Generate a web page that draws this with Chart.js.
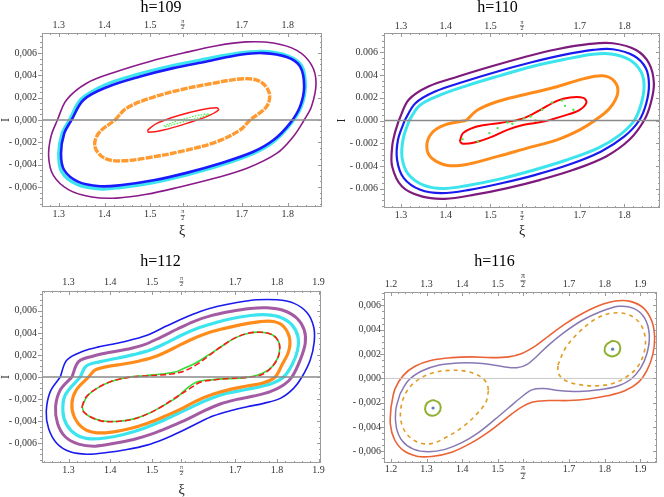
<!DOCTYPE html>
<html><head><meta charset="utf-8">
<script src="https://cdn.jsdelivr.net/npm/chart.js@4"></script>
<style>
html,body{margin:0;padding:0;background:#fff;}
#wrap{position:relative;width:664px;height:497px;overflow:hidden;}
canvas{position:absolute;}
</style></head><body>
<div id="wrap">
<canvas id="c109" width="332" height="248" style="left:0;top:0"></canvas>
<canvas id="c110" width="332" height="248" style="left:332px;top:0"></canvas>
<canvas id="c112" width="332" height="249" style="left:0;top:248px"></canvas>
<canvas id="c116" width="332" height="249" style="left:332px;top:248px"></canvas>
</div>
<script>
const FONT = "'Liberation Serif', 'Times New Roman', serif";
const PI2 = Math.PI / 2;

// ---- tick values / labels ----
const xTicksA = [1.3, 1.4, 1.5, PI2, 1.7, 1.8];
const xLabelsA = ['1.3', '1.4', '1.5', ['π', '2'], '1.7', '1.8'];
const xTicksB = [1.3, 1.4, 1.5, PI2, 1.7, 1.8, 1.9];
const xLabelsB = ['1.3', '1.4', '1.5', ['π', '2'], '1.7', '1.8', '1.9'];
const xTicksC = [1.2, 1.3, 1.4, 1.5, PI2, 1.7, 1.8, 1.9];
const xLabelsC = ['1.2', '1.3', '1.4', '1.5', ['π', '2'], '1.7', '1.8', '1.9'];
const yTicks = [-0.006, -0.004, -0.002, 0, 0.002, 0.004, 0.006];
const yLabelsComma = ['- 0,006', '- 0,004', '- 0,002', '0,000', '0,002', '0,004', '0,006'];
const yLabelsDot = ['- 0.006', '- 0.004', '- 0.002', '0.000', '0.002', '0.004', '0.006'];

// ---- h=109 ----
const purple109 = [[1.297,0],[1.317,0.0018],[1.361,0.0033],[1.427,0.00435],[1.499,0.00525],[1.572,0.006],[1.645,0.00666],[1.710,0.0070],[1.769,0.0069],[1.820,0.00624],[1.852,0.00495],[1.862,0.0033],[1.852,0.0012],[1.836,0],[1.812,-0.0015],[1.776,-0.003],[1.710,-0.00435],[1.638,-0.00525],[1.565,-0.006],[1.492,-0.00666],[1.427,-0.0070],[1.372,-0.0069],[1.321,-0.00624],[1.288,-0.00495],[1.278,-0.0033],[1.283,-0.0015]];
const cyan109 = [[1.3233,0],[1.3488,0.00186],[1.4012,0.00315],[1.4739,0.00411],[1.5467,0.00486],[1.6195,0.00546],[1.6923,0.006],[1.7469,0.00615],[1.7993,0.00576],[1.8306,0.00486],[1.8386,0.003],[1.8292,0.00114],[1.8066,-0.00036],[1.7702,-0.00192],[1.725,-0.003],[1.6523,-0.00408],[1.5795,-0.00492],[1.5067,-0.00561],[1.4339,-0.00606],[1.3888,-0.00618],[1.3393,-0.00576],[1.3066,-0.00465],[1.30,-0.003],[1.3073,-0.0012]];
const blue109 = [[1.328,0],[1.354,0.0018],[1.405,0.00294],[1.478,0.0039],[1.550,0.00465],[1.623,0.00525],[1.696,0.00585],[1.747,0.006],[1.798,0.00564],[1.827,0.0048],[1.836,0.003],[1.827,0.0012],[1.805,-0.0003],[1.769,-0.0018],[1.725,-0.00285],[1.652,-0.0039],[1.579,-0.00474],[1.507,-0.0054],[1.434,-0.00585],[1.390,-0.00594],[1.343,-0.00555],[1.312,-0.0045],[1.305,-0.003],[1.312,-0.0012]];
const orange109 = [[1.423,0],[1.448,0.00105],[1.499,0.00195],[1.565,0.0027],[1.638,0.0033],[1.703,0.0037],[1.740,0.00345],[1.760,0.0024],[1.754,0.0012],[1.718,0],[1.696,-0.0009],[1.645,-0.00195],[1.580,-0.0027],[1.507,-0.0033],[1.441,-0.00366],[1.401,-0.00345],[1.379,-0.0024],[1.387,-0.0012]];
const red109 = [[1.494,-0.0009],[1.514,-0.0003],[1.558,0.00036],[1.609,0.0009],[1.645,0.0011],[1.649,0.0009],[1.623,0.0003],[1.580,-0.0003],[1.529,-0.0009],[1.496,-0.0011]];
const green109 = [[1.529,-0.00054],[1.565,0],[1.609,0.00045],[1.630,0.00054],[1.609,0.00024],[1.565,-0.00024],[1.532,-0.0006]];

// ---- h=110 ----
const purple110 = [[1.2948,0],[1.317,0.00182],[1.361,0.00299],[1.4276,0.00387],[1.501,0.00475],[1.575,0.00557],[1.649,0.00627],[1.7226,0.00674],[1.774,0.0068],[1.826,0.00621],[1.855,0.00504],[1.866,0.00328],[1.859,0.00152],[1.844,0],[1.811,-0.0017],[1.759,-0.00316],[1.686,-0.00434],[1.612,-0.00522],[1.538,-0.00595],[1.4645,-0.00653],[1.398,-0.00689],[1.346,-0.00668],[1.302,-0.0058],[1.280,-0.00404],[1.280,-0.00229],[1.286,-0.00111]];
const blue110 = [[1.308,0],[1.332,0.00152],[1.376,0.00255],[1.442,0.00343],[1.516,0.00431],[1.590,0.0051],[1.6636,0.00577],[1.730,0.00621],[1.774,0.00627],[1.822,0.00568],[1.848,0.0046],[1.855,0.00314],[1.849,0.00152],[1.833,0],[1.800,-0.0014],[1.748,-0.00272],[1.675,-0.0039],[1.601,-0.00478],[1.527,-0.0055],[1.453,-0.0061],[1.391,-0.00639],[1.343,-0.0061],[1.306,-0.00507],[1.291,-0.00346],[1.293,-0.0017]];
const cyan110 = [[1.318,0],[1.3406,0.00129],[1.383,0.00217],[1.446,0.00305],[1.520,0.00393],[1.5935,0.00475],[1.667,0.00539],[1.730,0.00583],[1.7705,0.00586],[1.8125,0.00533],[1.837,0.0043],[1.844,0.00305],[1.838,0.00152],[1.822,0],[1.790,-0.00126],[1.741,-0.00243],[1.667,-0.00352],[1.5935,-0.0044],[1.520,-0.00516],[1.446,-0.00574],[1.394,-0.00598],[1.350,-0.00568],[1.3155,-0.00469],[1.302,-0.00322],[1.305,-0.00155]];
const orange110 = [[1.446,0],[1.472,0.00094],[1.516,0.00167],[1.575,0.00226],[1.6415,0.0029],[1.708,0.00366],[1.752,0.00393],[1.778,0.00343],[1.785,0.0024],[1.767,0.00108],[1.7336,0],[1.700,-0.00082],[1.649,-0.0017],[1.582,-0.00243],[1.516,-0.00316],[1.450,-0.00384],[1.405,-0.00396],[1.3686,-0.00331],[1.3575,-0.00229],[1.3686,-0.00111],[1.398,-0.00038]];
const red110 = [[1.4313,-0.00185],[1.4386,-0.00111],[1.4645,-0.00059],[1.5013,-0.00032],[1.538,-0.00012],[1.575,0.00021],[1.612,0.00094],[1.649,0.00173],[1.678,0.00202],[1.708,0.00199],[1.715,0.00158],[1.700,0.00094],[1.6636,0.00041],[1.619,-0.00009],[1.575,-0.00038],[1.538,-0.00082],[1.5013,-0.00146],[1.4645,-0.00193],[1.4386,-0.00205]];
const green110 = [[1.4372,-0.00164],[1.4718,-0.00185],[1.4976,-0.00111],[1.516,-0.00067],[1.538,-0.00018],[1.549,-0.00029],[1.5566,0],[1.575,0.00018],[1.590,0.00035],[1.601,0],[1.6156,0.00094],[1.638,0.00158],[1.660,0.00176],[1.667,0.00129],[1.6857,0.00094]];

// ---- h=112 ----
const blue112 = [[1.280,0],[1.296,0.00155],[1.336,0.00236],[1.376,0.00276],[1.416,0.00306],[1.456,0.00342],[1.496,0.00391],[1.536,0.00464],[1.576,0.00533],[1.616,0.00594],[1.656,0.00639],[1.704,0.00676],[1.752,0.007],[1.800,0.007],[1.840,0.0067],[1.872,0.00585],[1.888,0.00458],[1.8896,0.00321],[1.880,0.00155],[1.860,0],[1.840,-0.00103],[1.808,-0.00194],[1.768,-0.00239],[1.728,-0.0027],[1.688,-0.00306],[1.648,-0.00352],[1.608,-0.00421],[1.568,-0.00497],[1.528,-0.00564],[1.488,-0.00618],[1.440,-0.00658],[1.392,-0.00685],[1.344,-0.007],[1.304,-0.00679],[1.272,-0.00603],[1.252,-0.00467],[1.2464,-0.00315],[1.256,-0.00133]];
const purple112 = [[1.308,0],[1.324,0.00139],[1.360,0.00191],[1.400,0.00224],[1.440,0.00251],[1.480,0.00291],[1.520,0.00358],[1.560,0.00433],[1.600,0.00503],[1.640,0.00554],[1.688,0.00594],[1.736,0.00621],[1.776,0.00627],[1.816,0.00603],[1.848,0.00533],[1.8656,0.00427],[1.868,0.00306],[1.856,0.00155],[1.836,0],[1.816,-0.00073],[1.784,-0.00133],[1.744,-0.00173],[1.704,-0.00203],[1.664,-0.00245],[1.624,-0.00309],[1.584,-0.00385],[1.544,-0.00451],[1.504,-0.00512],[1.456,-0.00567],[1.408,-0.00603],[1.364,-0.00627],[1.324,-0.00609],[1.292,-0.00542],[1.2736,-0.00421],[1.2688,-0.0027],[1.280,-0.00118]];
const cyan112 = [[1.328,0],[1.3424,0.001],[1.376,0.00139],[1.416,0.0017],[1.456,0.00203],[1.496,0.00245],[1.536,0.00312],[1.576,0.00388],[1.616,0.00451],[1.656,0.00497],[1.696,0.00533],[1.736,0.00558],[1.776,0.00564],[1.808,0.00542],[1.836,0.00473],[1.8504,0.00367],[1.8496,0.00245],[1.836,0.00109],[1.816,0],[1.792,-0.00052],[1.760,-0.00088],[1.720,-0.00118],[1.680,-0.00148],[1.640,-0.00197],[1.600,-0.00264],[1.560,-0.00336],[1.520,-0.00406],[1.480,-0.00467],[1.432,-0.00521],[1.392,-0.00551],[1.352,-0.00561],[1.320,-0.00527],[1.296,-0.00436],[1.2864,-0.00315],[1.292,-0.00164]];
const orange112 = [[1.348,0],[1.364,0.00064],[1.392,0.00094],[1.432,0.00118],[1.472,0.00148],[1.512,0.00191],[1.552,0.00261],[1.592,0.00336],[1.632,0.00397],[1.672,0.00439],[1.712,0.00473],[1.760,0.00503],[1.792,0.00503],[1.816,0.00458],[1.8304,0.00351],[1.828,0.0023],[1.812,0.00109],[1.796,0],[1.768,-0.00052],[1.728,-0.00082],[1.688,-0.00112],[1.648,-0.00155],[1.608,-0.00215],[1.568,-0.00294],[1.528,-0.00361],[1.488,-0.00421],[1.448,-0.00467],[1.408,-0.00497],[1.368,-0.00506],[1.336,-0.00467],[1.3136,-0.00361],[1.308,-0.00239],[1.3184,-0.00118]];
const red112 = [[1.332,-0.0027],[1.3424,-0.00179],[1.368,-0.00103],[1.400,-0.00042],[1.440,-0.00006],[1.480,0.00009],[1.520,0.00018],[1.552,0.0003],[1.580,0.00058],[1.608,0.00115],[1.636,0.00191],[1.664,0.0027],[1.696,0.00348],[1.728,0.00394],[1.760,0.00406],[1.788,0.00385],[1.804,0.00321],[1.8064,0.0023],[1.7984,0.00145],[1.7824,0.0007],[1.760,0.00015],[1.728,-0.00003],[1.688,-0.00012],[1.648,-0.00027],[1.616,-0.00048],[1.588,-0.00112],[1.560,-0.00179],[1.528,-0.00258],[1.496,-0.00324],[1.456,-0.00382],[1.416,-0.00403],[1.380,-0.004],[1.352,-0.0036],[1.336,-0.00315]];
const green112 = [[1.3328,-0.00264],[1.3456,-0.0017],[1.372,-0.00094],[1.404,-0.00039],[1.444,-0.00003],[1.484,0.00012],[1.524,0.00027],[1.556,0.00045],[1.572,0.0007],[1.604,0.00124],[1.636,0.002],[1.668,0.00279],[1.700,0.00355],[1.732,0.00397],[1.764,0.00406],[1.7904,0.00379],[1.8048,0.00312],[1.8056,0.00221],[1.7968,0.00136],[1.780,0.00064],[1.756,0.00021],[1.724,-0.00006],[1.684,-0.00015],[1.648,-0.00024],[1.608,-0.00045],[1.584,-0.00103],[1.560,-0.00185],[1.5264,-0.00261],[1.4944,-0.00327],[1.4544,-0.00382],[1.4144,-0.00403],[1.3784,-0.00397],[1.3504,-0.00358],[1.336,-0.00312]];

// ---- h=116 ----
const red116 = [[1.200,-0.00238],[1.2112,-0.00086],[1.2347,0.00025],[1.2675,0.001],[1.3143,0.00149],[1.3706,0.00171],[1.4268,0.00177],[1.4830,0.00171],[1.530,0.00177],[1.5674,0.00205],[1.6049,0.00265],[1.6424,0.00348],[1.6892,0.00448],[1.7361,0.00531],[1.7829,0.00597],[1.8298,0.00636],[1.8720,0.00633],[1.9095,0.00578],[1.9329,0.00467],[1.9404,0.00329],[1.9348,0.00191],[1.9188,0.00066],[1.8954,-0.0003],[1.8579,-0.001],[1.8111,-0.00141],[1.7548,-0.00169],[1.6986,-0.00182],[1.6424,-0.00182],[1.5955,-0.00196],[1.558,-0.00252],[1.5205,-0.00335],[1.4783,-0.00431],[1.4268,-0.00528],[1.3706,-0.00606],[1.3143,-0.00641],[1.2722,-0.00639],[1.2347,-0.00592],[1.2094,-0.005],[1.1981,-0.00376]];
const purple116 = [[1.2253,-0.00127],[1.2487,-0.00017],[1.2862,0.00061],[1.3331,0.00108],[1.3893,0.00127],[1.4362,0.00127],[1.4830,0.00113],[1.5205,0.00094],[1.5533,0.00088],[1.5814,0.00113],[1.6096,0.00182],[1.6424,0.00274],[1.6892,0.00384],[1.7361,0.00476],[1.7829,0.00542],[1.8392,0.00592],[1.8814,0.00575],[1.9123,0.00495],[1.9254,0.00357],[1.9188,0.00205],[1.9001,0.0008],[1.8720,-0.00011],[1.8345,-0.00064],[1.7829,-0.00094],[1.7267,-0.00108],[1.6705,-0.001],[1.6284,-0.00083],[1.5955,-0.00094],[1.5655,-0.00155],[1.5299,-0.00243],[1.4924,-0.00335],[1.4455,-0.00445],[1.3987,-0.00528],[1.3518,-0.00583],[1.3050,-0.00603],[1.2628,-0.00581],[1.2319,-0.00514],[1.2150,-0.00404],[1.2131,-0.00265]];
const orangeR116 = [[1.6686,0.00108],[1.6892,0.00246],[1.7267,0.00376],[1.7736,0.00487],[1.8204,0.00536],[1.8673,0.00523],[1.9001,0.00448],[1.9142,0.00329],[1.9095,0.00199],[1.8907,0.00088],[1.8579,0.00006],[1.8204,-0.00044],[1.7736,-0.00061],[1.7267,-0.0005],[1.6892,-0.00017],[1.6705,0.00039]];
const orangeL116 = [[1.4737,-0.001],[1.4662,-0.00196],[1.4362,-0.00307],[1.3987,-0.00404],[1.3565,-0.00481],[1.3125,-0.00536],[1.2722,-0.0052],[1.2412,-0.00445],[1.2272,-0.00335],[1.2300,-0.0021],[1.2469,-0.00094],[1.2787,-0.00006],[1.3190,0.00047],[1.3659,0.00066],[1.4127,0.00058],[1.4502,0.00017],[1.4690,-0.00039]];
const greenR116 = [[1.8223,0.0031],[1.8373,0.00296],[1.8439,0.00254],[1.8392,0.00205],[1.8251,0.00182],[1.8092,0.00191],[1.7998,0.00227],[1.8054,0.00279]];
const greenL116 = [[1.3171,-0.00177],[1.3331,-0.00196],[1.3396,-0.00238],[1.3331,-0.00285],[1.3171,-0.00307],[1.3021,-0.00293],[1.2956,-0.00252],[1.3012,-0.00202]];
const centers116 = [[1.8223,0.0024],[1.3181,-0.00243]];

// ---- helpers ----
const toXY = pts => pts.map(([x, y]) => ({x, y}));
const loop = pts => toXY(pts.concat([pts[0]]));
function curve(pts, color, width, dash) {
  return {data: loop(pts), showLine: true, borderColor: color, borderWidth: width,
    borderDash: dash || [], pointRadius: 0, tension: 0.35, fill: false, borderJoinStyle: 'round'};
}
function dots(pts, color, r) {
  return {data: toXY(pts), showLine: false, pointRadius: r, pointBorderWidth: 0,
    backgroundColor: color, borderColor: color};
}

const framePlugin = {
  id: 'frame',
  afterDatasetsDraw(chart, args, o) {
    const {ctx, chartArea: a, scales} = chart;
    const xs = scales.x, ys = scales.y;
    ctx.save();
    // horizontal axis line at I = 0
    const y0 = ys.getPixelForValue(0);
    ctx.strokeStyle = o.zeroColor; ctx.lineWidth = o.zeroWidth;
    ctx.beginPath(); ctx.moveTo(a.left, y0); ctx.lineTo(a.right, y0); ctx.stroke();
    // frame
    ctx.strokeStyle = '#9a9a9a'; ctx.lineWidth = 1;
    ctx.strokeRect(Math.round(a.left) + 0.5, Math.round(a.top) + 0.5,
      Math.round(a.right - a.left) - 1, Math.round(a.bottom - a.top) - 1);
    const seg = (x1, y1, x2, y2) => { ctx.beginPath(); ctx.moveTo(x1, y1); ctx.lineTo(x2, y2); ctx.stroke(); };
    // x ticks (major + minor), inward on top and bottom
    const majX = o.xMajor;
    for (let k = Math.ceil(xs.min / 0.02); k * 0.02 <= xs.max; k++) {
      const v = k * 0.02;
      if (majX.some(m => Math.abs(m - v) < 0.006)) continue;
      const px = Math.round(xs.getPixelForValue(v)) + 0.5;
      seg(px, a.top, px, a.top + 2); seg(px, a.bottom, px, a.bottom - 2);
    }
    majX.forEach(v => {
      const px = Math.round(xs.getPixelForValue(v)) + 0.5;
      seg(px, a.top, px, a.top + 4); seg(px, a.bottom, px, a.bottom - 4);
    });
    // y ticks: outward on left, inward on right
    for (let k = Math.ceil(ys.min / 0.0005); k * 0.0005 <= ys.max + 1e-9; k++) {
      const v = k * 0.0005;
      const major = k % 4 === 0;
      const py = Math.round(ys.getPixelForValue(v)) + 0.5;
      const len = major ? 4 : 2;
      seg(a.left - len, py, a.left, py); seg(a.right, py, a.right - len, py);
    }
    // fraction bars of the π/2 tick labels
    ctx.strokeStyle = '#333'; ctx.lineWidth = 0.8;
    const pxPi = xs.getPixelForValue(PI2);
    const half = o.piSize * 0.33;
    const yb = a.bottom + o.xPad + o.piSize * o.piLH;
    seg(pxPi - half, yb + 0.5, pxPi + half, yb + 0.5);
    const yt = a.top - o.x2Pad - o.piSize * o.piLH;
    seg(pxPi - half, yt + 0.5, pxPi + half, yt + 0.5);
    ctx.restore();
  }
};

function makePanel(id, p) {
  const piIdx = p.xTicks.indexOf(PI2);
  const tickFont = c => c.index === piIdx
    ? {family: FONT, size: p.piSize, lineHeight: p.piLH}
    : {family: FONT, size: 10, lineHeight: 1.2};
  const xAxis = (pos, pad, h, title) => ({
    type: 'linear', position: pos, min: p.xMin, max: p.xMax,
    grid: {display: false, drawTicks: false}, border: {display: false},
    afterBuildTicks: s => { s.ticks = p.xTicks.map(v => ({value: v})); },
    ticks: {autoSkip: false, maxRotation: 0, minRotation: 0, padding: pad, color: '#333',
      font: tickFont, callback: (v, i) => p.xLabels[i]},
    afterFit: s => { s.height = h; },
    title: title || {display: false}
  });
  new Chart(document.getElementById(id), {
    type: 'scatter',
    data: {datasets: p.datasets},
    plugins: [framePlugin],
    options: {
      responsive: false, animation: false, devicePixelRatio: 1,
      layout: {padding: {left: 0, right: p.rightW, top: 0, bottom: 0}},
      plugins: {
        legend: {display: false}, tooltip: {enabled: false},
        title: {display: true, text: p.title, color: '#000',
          font: {family: FONT, size: 16, weight: 'normal', lineHeight: 1},
          padding: {top: p.titleTop, bottom: 0}},
        frame: {xMajor: p.xTicks, zeroColor: p.zeroColor, zeroWidth: p.zeroWidth,
          piSize: p.piSize, piLH: p.piLH, xPad: p.xPad, x2Pad: p.x2Pad}
      },
      scales: {
        x: xAxis('bottom', p.xPad, p.bottomH, p.xi ? {display: true, text: 'ξ', color: '#222',
          font: {family: FONT, size: 14, lineHeight: 1}, padding: {top: 0, bottom: p.xiPad}} : null),
        x2: xAxis('top', p.x2Pad, p.topH),
        y: {
          type: 'linear', position: 'left', min: p.yMin, max: p.yMax,
          grid: {display: false, drawTicks: false}, border: {display: false},
          afterBuildTicks: s => { s.ticks = yTicks.map(v => ({value: v})); },
          ticks: {padding: p.yPad, color: '#333', font: {family: FONT, size: 10},
            callback: (v, i) => p.yLabels[i]},
          afterFit: s => { s.width = p.leftW; },
          title: p.xi ? {display: true, text: 'I', color: '#222',
            font: {family: FONT, size: 12, lineHeight: 1}, padding: {top: p.iPad, bottom: 0}} : {display: false}
        }
      }
    }
  });
}

makePanel('c109', {
  title: 'h=109', titleTop: 0, xMin: 1.2635, xMax: 1.875, yMin: -0.0078, yMax: 0.0078,
  xTicks: xTicksA, xLabels: xLabelsA, yLabels: yLabelsComma,
  leftW: 42, rightW: 10, topH: 17, bottomH: 41, yPad: 5, x2Pad: 2, xPad: 1.5,
  piSize: 6, piLH: 1.1, xi: true, iPad: 0, xiPad: 10, zeroColor: '#8a8a8a', zeroWidth: 1.5,
  datasets: [
    curve(green109, '#44ee44', 1.2, [1.5, 1.5]),
    curve(red109, '#ff1a1a', 1.5),
    curve(orange109, '#ff9a30', 3.4, [7, 1.2]),
    curve(blue109, '#1a1aff', 2.6),
    curve(cyan109, '#3ce4ee', 3.2),
    curve(purple109, '#8a1a8a', 1.6)
  ]
});

makePanel('c110', {
  title: 'h=110', titleTop: 0, xMin: 1.2617, xMax: 1.8797, yMin: -0.0077, yMax: 0.0077,
  xTicks: xTicksA, xLabels: xLabelsA, yLabels: yLabelsDot,
  leftW: 52, rightW: 1, topH: 17, bottomH: 40, yPad: 6, x2Pad: 1, xPad: 1,
  piSize: 6, piLH: 1.1, xi: true, iPad: 4, xiPad: 10, zeroColor: '#8a8a8a', zeroWidth: 1.5,
  datasets: [
    dots(green110, '#44ee44', 1.2),
    curve(red110, '#ff0000', 2),
    curve(orange110, '#ff8c1a', 3),
    curve(blue110, '#1a1aee', 2.2),
    curve(cyan110, '#3ce4ee', 3),
    curve(purple110, '#7d1a7d', 2.2)
  ]
});

makePanel('c112', {
  title: 'h=112', titleTop: 6, xMin: 1.2362, xMax: 1.9058, yMin: -0.0078, yMax: 0.0078,
  xTicks: xTicksB, xLabels: xLabelsB, yLabels: yLabelsComma,
  leftW: 42, rightW: 11, topH: 21, bottomH: 34, yPad: 5, x2Pad: 3, xPad: 1,
  piSize: 6, piLH: 1.1, xi: true, iPad: 0, xiPad: 0, zeroColor: '#8a8a8a', zeroWidth: 1.5,
  datasets: [
    curve(red112, '#ff1a1a', 1.6, [6, 3]),
    curve(green112, '#33dd33', 1.6),
    curve(orange112, '#ff8c1a', 3.2),
    curve(cyan112, '#3ce4ee', 3.2),
    curve(purple112, 'rgba(140,50,140,0.8)', 3),
    curve(blue112, '#1a1aee', 1.6)
  ]
});

makePanel('c116', {
  title: 'h=116', titleTop: 6, xMin: 1.1803, xMax: 1.947, yMin: -0.00695, yMax: 0.0071,
  xTicks: xTicksC, xLabels: xLabelsC, yLabels: yLabelsComma,
  leftW: 52, rightW: 7, topH: 22, bottomH: 34, yPad: 3, x2Pad: 2, xPad: 0,
  piSize: 8, piLH: 1.2, xi: false, zeroColor: '#c8c8c8', zeroWidth: 1,
  datasets: [
    dots(centers116, '#5E81B5', 1.6),
    curve(greenR116, '#8FB032', 2),
    curve(greenL116, '#8FB032', 2),
    curve(orangeR116, '#E19C24', 1.6, [4, 4]),
    curve(orangeL116, '#E19C24', 1.6, [4, 4]),
    curve(purple116, '#8778B3', 1.5),
    curve(red116, '#EB6235', 1.6)
  ]
});
</script>
</body></html>
